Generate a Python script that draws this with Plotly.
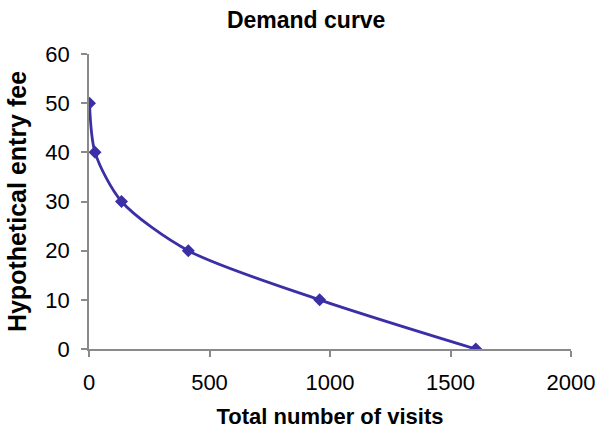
import plotly.graph_objects as go

visits = [2, 25, 135, 412, 957, 1605]
fee = [50, 40, 30, 20, 10, 0]

x_ticks = [0, 500, 1000, 1500, 2000]
y_ticks = [0, 10, 20, 30, 40, 50, 60]

color = "#3B2FA6"

fig = go.Figure(go.Scatter(
    x=visits, y=fee, mode="lines+markers",
    line=dict(color=color, width=2.8, shape="spline", smoothing=0.8),
    marker=dict(symbol="diamond", size=10, color=color),
))

font = "Liberation Sans, Arial, sans-serif"
fig.update_layout(
    width=598, height=429,
    margin=dict(l=89, r=27, t=54, b=80, autoexpand=False),
    paper_bgcolor="white", plot_bgcolor="white",
    showlegend=False,
    title=dict(text="<b>Demand curve</b>", x=0.512, xanchor="center", y=0.953, yanchor="middle",
               font=dict(family=font, size=23, color="black")),
    font=dict(family=font, color="black"),
)
fig.update_xaxes(
    range=[0, 2000], tickvals=x_ticks, showgrid=False, zeroline=False, automargin=False,
    showline=True, linecolor="#8a8a8a", linewidth=1.5,
    ticks="outside", ticklen=6, tickcolor="#8a8a8a", tickwidth=1.5,
    tickfont=dict(size=22), ticklabelstandoff=7,
    title=dict(text="<b>Total number of visits</b>", font=dict(size=22), standoff=16),
)
fig.update_yaxes(
    range=[0, 60], tickvals=y_ticks, showgrid=False, zeroline=False, automargin=False,
    showline=True, linecolor="#8a8a8a", linewidth=1.5,
    ticks="outside", ticklen=6, tickcolor="#8a8a8a", tickwidth=1.5,
    tickfont=dict(size=22), ticklabelstandoff=7,
    title=dict(text="<b>Hypothetical entry fee</b>", font=dict(size=25), standoff=12),
)

fig.write_html("out.html")
